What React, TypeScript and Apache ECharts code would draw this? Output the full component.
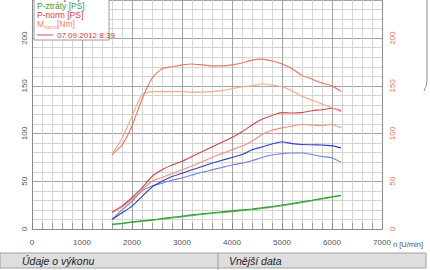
import React, { useEffect, useRef } from "react";
import * as echarts from "echarts";

// Engine speed [U/min]
const rpm = [1600, 1800, 2000, 2200, 2400, 2600, 2800, 3000, 3200, 3400, 3600, 3800, 4000, 4200, 4400, 4600, 4800, 5000, 5200, 5400, 5600, 5800, 6000, 6180];

// M-norm [Nm] (two runs)
const torqueRunA = [78, 88, 108, 136, 158, 168, 170, 172, 173, 172, 171, 171, 172, 174, 177, 178, 176, 173, 168, 161, 157, 153, 150, 144];
const torqueRunB = [78, 95, 118, 141, 144, 144, 144, 144, 143.5, 143.5, 144, 145, 147, 149, 150, 152, 151, 149, 145, 139, 135, 131, 127, 123];

// P-norm [PS]
const pNormRunA = [18, 24, 33, 43, 55, 62, 67, 71, 76, 81, 86, 91, 96, 102, 109, 115, 119, 122, 121.5, 122, 124, 125, 126.5, 124];
const pNormRunB = [17, 23, 31, 41, 50, 54, 58, 62, 66, 70.5, 75, 79, 83, 87, 92, 99, 103.5, 106, 108, 109.5, 109, 108.5, 109.5, 106];

// P-kolo [PS]
const pWheelRunA = [10, 17, 24, 34, 44, 50, 55, 58.5, 62, 65.5, 69, 72, 75, 78, 83, 86, 89, 91.5, 89.5, 88.5, 88.3, 88, 87.4, 85];
const pWheelRunB = [10, 20, 29, 40, 45, 48, 51, 53.5, 56.5, 59.5, 62, 64.5, 67, 69, 71.5, 75, 77.5, 79, 79.6, 79.6, 78, 76, 74.5, 70];

// P-ztráty [PS]
const pLossRunA = [5, 6, 7.5, 8.6, 9.6, 11, 12.3, 13.5, 14.8, 16, 17, 18, 19, 20, 21, 22.3, 23.6, 25.2, 26.8, 28.5, 30.2, 32, 33.8, 35.4];
const pLossRunB = [4.7, 5.6, 7, 8, 9, 10.3, 11.5, 12.7, 14, 15.2, 16.2, 17.2, 18.2, 19.2, 20.2, 21.5, 22.8, 24.4, 26, 27.8, 29.6, 31.5, 33.3, 35];

const xTicks = [0, 1000, 2000, 3000, 4000, 5000, 6000, 7000];
const yTicks = [0, 50, 100, 150, 200];

const legendItems = ["P-kolo [PS]", "P-ztráty [PS]", "P-norm [PS]"];
const runLabel = "07.09.2012 8:39";
const xAxisName = "n [U/min]";
const panelLeft = "Údaje o výkonu";
const panelRight = "Vnější data";

const zip = (ys: number[]) => rpm.map((x, i) => [x, ys[i]]);

const FONT = "'Liberation Sans', Arial, sans-serif";

function line(name: string, data: number[], color: string, axis: number, width = 1.1) {
  return {
    type: "line",
    name,
    yAxisIndex: axis,
    data: zip(data),
    showSymbol: false,
    smooth: 0.2,
    lineStyle: { color, width },
    itemStyle: { color },
    z: 3,
  };
}

export default function App() {
  const ref = useRef<HTMLDivElement>(null);
  useEffect(() => {
    const chart = echarts.init(ref.current!, null, { renderer: "svg" });
    const option: any = {
      animation: false,
      backgroundColor: "#ffffff",
      grid: { left: 32, right: 48, top: -6, bottom: 41, containLabel: false },
      xAxis: {
        type: "value",
        min: 0,
        max: 7000,
        interval: 1000,
        axisLine: { show: true, lineStyle: { color: "#8a8a8a", width: 1 } },
        axisTick: { show: true, inside: true, length: 6, lineStyle: { color: "#888" } },
        minorTick: { show: true, splitNumber: 5, length: 6, lineStyle: { color: "#999" } },
        splitLine: { show: true, lineStyle: { color: "#a4a4a4", width: 1 } },
        minorSplitLine: { show: true, lineStyle: { color: "#d4d4d4", width: 1 } },
        axisLabel: {
          color: "#555",
          fontSize: 8,
          fontFamily: FONT,
          margin: 9,
          formatter: (v: number) => (xTicks.includes(v) ? String(v) : ""),
        },
      },
      yAxis: [
        {
          type: "value",
          min: 0,
          max: 240,
          interval: 50,
          axisLine: { show: true, lineStyle: { color: "#8a8a8a" } },
          axisTick: { show: false },
          minorTick: { show: false, splitNumber: 5 },
          splitLine: { show: true, lineStyle: { color: "#a4a4a4", width: 1 } },
          minorSplitLine: { show: true, lineStyle: { color: "#d4d4d4", width: 1 } },
          axisLabel: {
            color: "#555",
            fontSize: 8,
            fontFamily: FONT,
            rotate: 90,
            margin: 4,
            showMaxLabel: false,
            formatter: (v: number) => (yTicks.includes(v) ? String(v) : ""),
          },
        },
        {
          type: "value",
          position: "right",
          min: 0,
          max: 240,
          interval: 50,
          axisLine: { show: true, lineStyle: { color: "#8a8a8a" } },
          axisTick: { show: false },
          splitLine: { show: false },
          axisLabel: {
            color: "#e07a50",
            fontSize: 8,
            fontFamily: FONT,
            rotate: 90,
            margin: 6,
            showMaxLabel: false,
            formatter: (v: number) => (yTicks.includes(v) ? String(v) : ""),
          },
        },
      ],
      series: [
        line("P-ztráty B", pLossRunB, "#5cbf5c", 0),
        line("P-ztráty A", pLossRunA, "#2f9a35", 0),
        line("P-kolo B", pWheelRunB, "#7482e0", 0),
        line("P-kolo A", pWheelRunA, "#3040c0", 0),
        line("P-norm B", pNormRunB, "#ee9080", 0),
        line("P-norm A", pNormRunA, "#d04848", 0),
        line("M-norm B", torqueRunB, "#f2a888", 1),
        line("M-norm A", torqueRunA, "#e4785a", 1),
      ],
      graphic: [
        // legend box
        {
          type: "rect",
          shape: { x: 34, y: -12, width: 75, height: 52 },
          style: { fill: "#ffffff", stroke: "#9a9a9a", lineWidth: 1 },
          z: 10,
        },
        {
          type: "text",
          x: 37,
          y: -3,
          style: { text: legendItems[0], fill: "#3848c8", fontSize: 8.5, fontFamily: FONT, verticalAlign: "middle" },
          z: 11,
        },
        {
          type: "text",
          x: 37,
          y: 6,
          style: { text: legendItems[1], fill: "#3a9a3a", fontSize: 8.5, fontFamily: FONT, verticalAlign: "middle" },
          z: 11,
        },
        {
          type: "text",
          x: 37,
          y: 15,
          style: { text: legendItems[2], fill: "#d04050", fontSize: 8.5, fontFamily: FONT, verticalAlign: "middle" },
          z: 11,
        },
        {
          type: "text",
          x: 37,
          y: 24,
          style: { text: "M", fill: "#e8875a", fontSize: 8.5, fontFamily: FONT, verticalAlign: "middle" },
          z: 11,
        },
        {
          type: "text",
          x: 44.5,
          y: 27,
          style: { text: "norm", fill: "#e8875a", fontSize: 6, fontFamily: FONT, verticalAlign: "middle" },
          z: 11,
        },
        {
          type: "text",
          x: 57,
          y: 24,
          style: { text: "[Nm]", fill: "#e8875a", fontSize: 8.5, fontFamily: FONT, verticalAlign: "middle" },
          z: 11,
        },
        {
          type: "line",
          shape: { x1: 37, y1: 35, x2: 53, y2: 35 },
          style: { stroke: "#d85050", lineWidth: 1 },
          z: 11,
        },
        {
          type: "text",
          x: 57,
          y: 35,
          style: { text: runLabel, fill: "#d04040", fontSize: 8, fontFamily: FONT, verticalAlign: "middle" },
          z: 11,
        },
        // axis name
        {
          type: "text",
          x: 393,
          y: 244,
          style: { text: xAxisName, fill: "#555", fontSize: 7.5, fontFamily: FONT, verticalAlign: "middle" },
        },
        // bottom panel
        {
          type: "rect",
          shape: { x: 0, y: 253, width: 426, height: 15 },
          style: { fill: "#dedede", stroke: "#a0a0a0", lineWidth: 1 },
        },
        {
          type: "line",
          shape: { x1: 218, y1: 253, x2: 218, y2: 270 },
          style: { stroke: "#a0a0a0", lineWidth: 1 },
        },
        {
          type: "text",
          x: 22,
          y: 261,
          style: { text: panelLeft, fill: "#222", fontSize: 10.5, fontStyle: "italic", fontFamily: FONT, verticalAlign: "middle" },
        },
        {
          type: "text",
          x: 229,
          y: 261,
          style: { text: panelRight, fill: "#222", fontSize: 10.5, fontStyle: "italic", fontFamily: FONT, verticalAlign: "middle" },
        },
        // right panel edge
        {
          type: "line",
          shape: { x1: 427, y1: 0, x2: 427, y2: 78 },
          style: { stroke: "#888", lineWidth: 1 },
        },
        {
          type: "bezierCurve",
          shape: { x1: 427, y1: 78, cpx1: 427, cpy1: 86, cpx2: 425, cpy2: 88, x2: 424, y2: 91 },
          style: { stroke: "#888", lineWidth: 1, fill: "none" },
        },
      ],
    };
    chart.setOption(option);
    return () => chart.dispose();
  }, []);
  return <div ref={ref} style={{ position: "absolute", left: 0, top: 0, width: 430, height: 270 }} />;
}
